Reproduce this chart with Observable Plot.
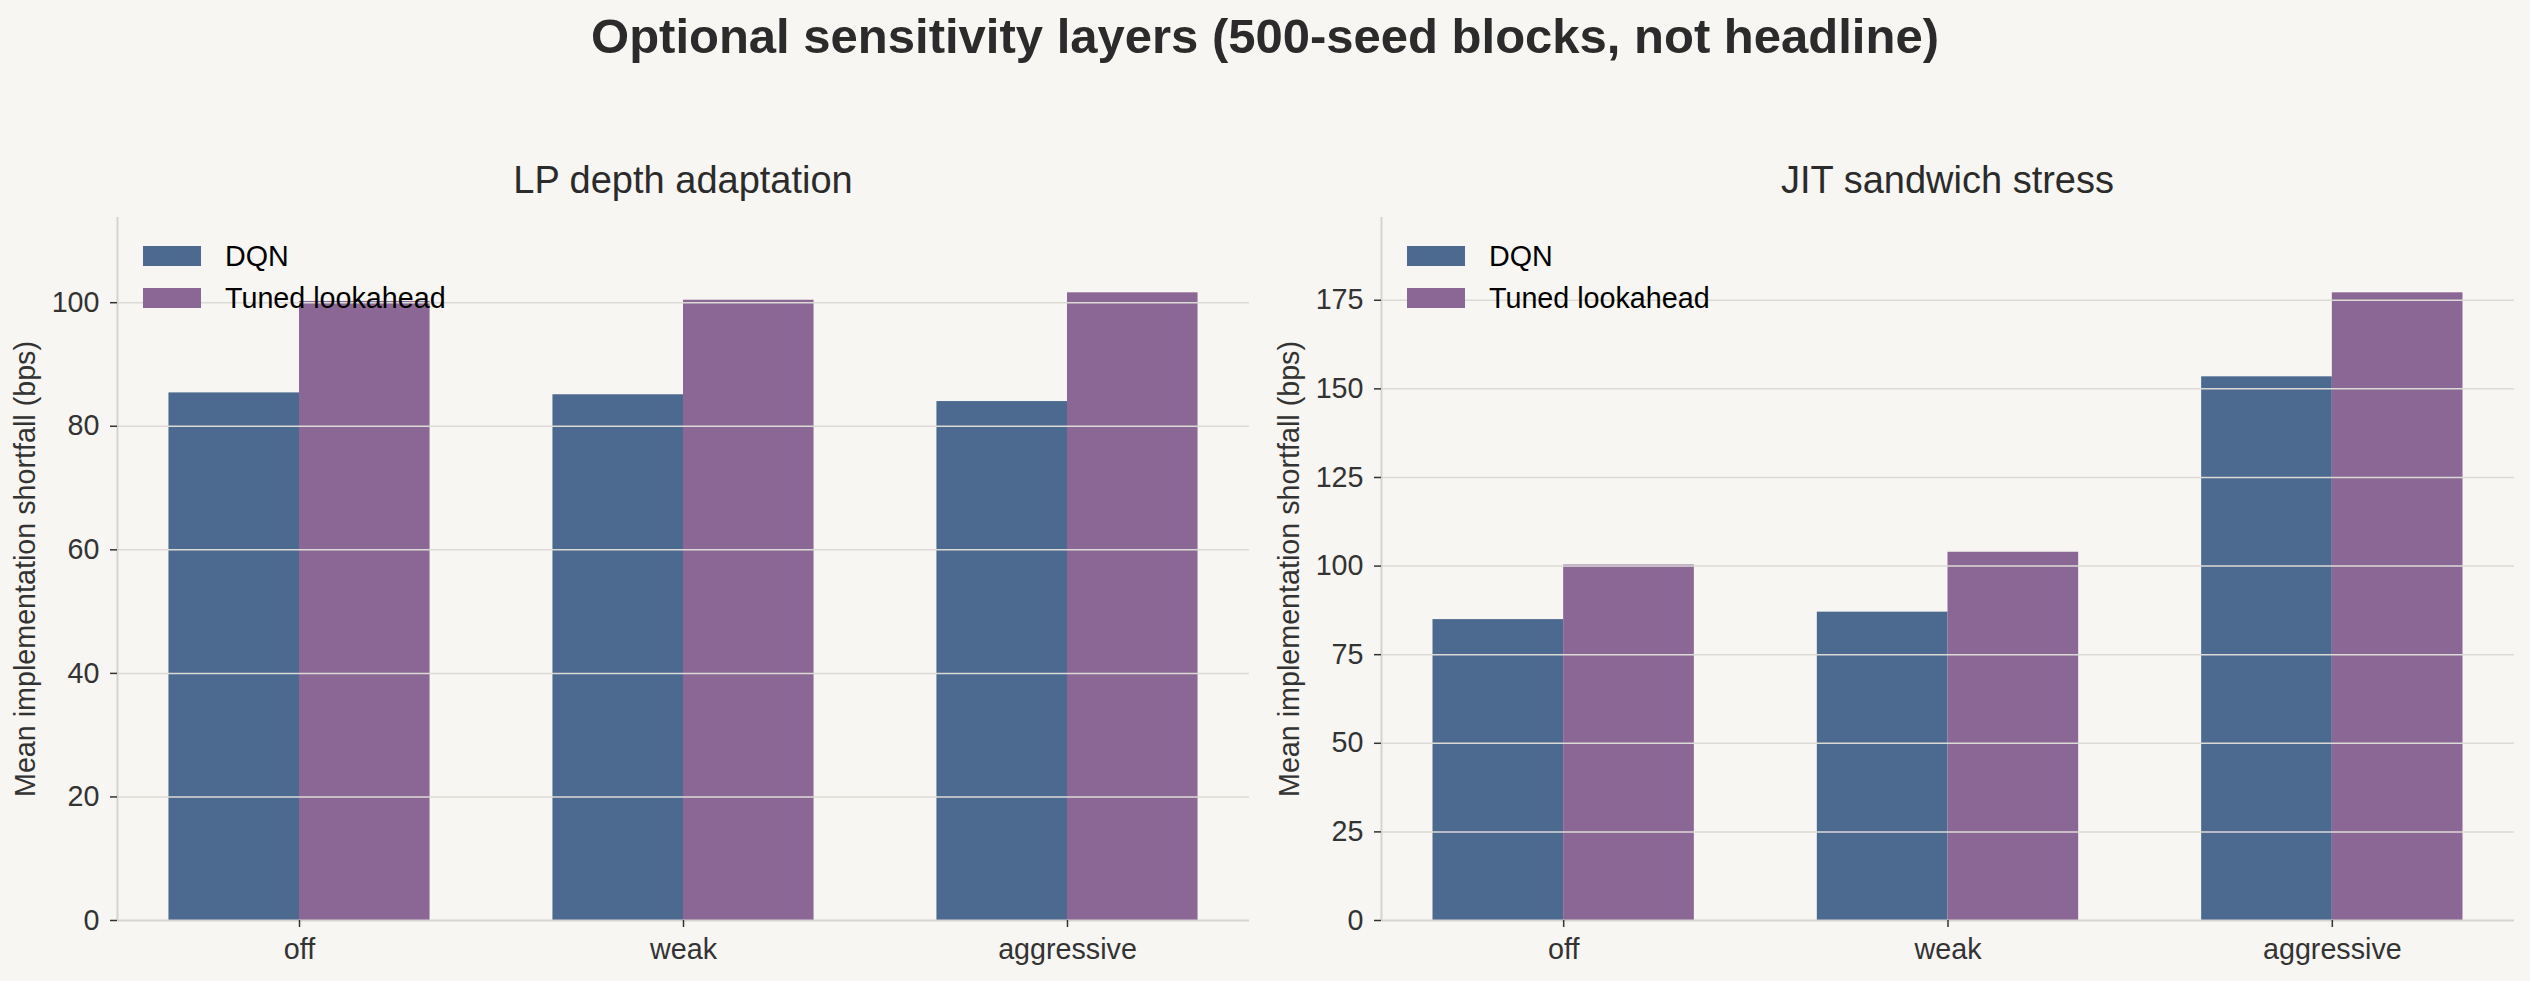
<!DOCTYPE html>
<html>
<head>
<meta charset="utf-8">
<script src="https://cdn.jsdelivr.net/npm/d3@7"></script>
<script src="https://cdn.jsdelivr.net/npm/@observablehq/plot@0.6"></script>
<style>
  html, body { margin: 0; padding: 0; background: #f7f6f2; }
  #page { position: relative; width: 2530px; height: 981px; background: #f7f6f2; overflow: hidden;
          font-family: "Liberation Sans", Arial, sans-serif; }
  .suptitle { position: absolute; left: 0; width: 2530px; top: 11.5px; text-align: center;
              font-weight: bold; font-size: 49px; line-height: 49px; color: #2b2b2b; white-space: nowrap; }
  .subtitle { position: absolute; top: 161px; font-size: 38px; line-height: 38px; color: #2b2b2b;
              text-align: center; white-space: nowrap; transform: translateX(-50%); }
  .panel { position: absolute; top: 200px; width: 1265px; height: 781px; }
  .legend { position: absolute; top: 246px; }
  .legend .row { display: flex; align-items: center; height: 20px; margin-bottom: 22px; }
  .legend .sw { width: 58px; height: 20px; margin-right: 24px; flex: none; }
  .legend .lab { font-size: 28.7px; line-height: 20px; color: #000; white-space: nowrap; }
</style>
</head>
<body>
<div id="page"></div>
<script>
// ---- data ----
const categories = ["off", "weak", "aggressive"];
const seriesNames = ["DQN", "Tuned lookahead"];
const seriesColors = ["#4c6990", "#8b6795"];
const lpDqn = [85.4, 85.1, 84.0];
const lpTuned = [100.2, 100.4, 101.6];
const jitDqn = [84.9, 87.0, 153.4];
const jitTuned = [100.3, 103.9, 177.1];
const lpTicks = [0, 20, 40, 60, 80, 100];
const jitTicks = [0, 25, 50, 75, 100, 125, 150, 175];
const panelTitles = ["LP depth adaptation", "JIT sandwich stress"];
const yLabel = "Mean implementation shortfall (bps)";
const figTitle = "Optional sensitivity layers (500-seed blocks, not headline)";

// ---- layout ----
const page = document.getElementById("page");
const st = document.createElement("div");
st.className = "suptitle";
st.textContent = figTitle;
page.appendChild(st);

const BAR_W = 0.34;
const PANEL_W = 1265, PANEL_H = 781;
const FS = 28.7;

function makePanel(dqn, tuned, ticks, left, marginLeft, title) {
  const rows = [];
  categories.forEach((c, i) => {
    rows.push({cat: c, i, series: seriesNames[0], value: dqn[i]});
    rows.push({cat: c, i, series: seriesNames[1], value: tuned[i]});
  });
  const ymax = d3.max(rows, d => d.value) * 1.12;
  const lo = -BAR_W, hi = categories.length - 1 + BAR_W;
  const pad = (hi - lo) * 0.05;
  const xdom = [lo - pad, hi + pad];

  const chart = Plot.plot({
    width: PANEL_W,
    height: PANEL_H,
    marginLeft: marginLeft,
    marginRight: 16,
    marginTop: 17,
    marginBottom: 61,
    style: {background: "transparent", fontFamily: "'Liberation Sans', Arial, sans-serif", fontSize: FS + "px", color: "#333"},
    x: {type: "linear", domain: xdom, axis: null},
    y: {type: "linear", domain: [0, ymax], axis: null},
    color: {domain: seriesNames, range: seriesColors},
    marks: [
      Plot.rectY(rows, {
        x1: d => d.series === seriesNames[0] ? d.i - BAR_W : d.i,
        x2: d => d.series === seriesNames[0] ? d.i : d.i + BAR_W,
        y: "value",
        fill: "series",
        inset: 0
      }),
      Plot.gridY({ticks: ticks.filter(t => t > 0), stroke: "#dcdad5", strokeOpacity: 1, strokeWidth: 1.5}),
      Plot.ruleY([0], {stroke: "#d6d4cf", strokeWidth: 2}),
      Plot.ruleX([xdom[0]], {stroke: "#d6d4cf", strokeWidth: 2}),
      Plot.axisX({ticks: d3.range(categories.length), tickFormat: i => categories[i], tickSize: 7, tickPadding: 11,
                  fontSize: FS, color: "#333", strokeWidth: 1.5, label: null}),
      Plot.axisY({ticks: ticks, tickFormat: d3.format("d"), tickSize: 7, tickPadding: 11,
                  fontSize: FS, color: "#333", strokeWidth: 1.5, label: null}),
      Plot.text([yLabel], {frameAnchor: "left", dx: -92, rotate: -90, lineAnchor: "middle", textAnchor: "middle",
                           fontSize: FS, fill: "#333", text: d => d})
    ]
  });

  const div = document.createElement("div");
  div.className = "panel";
  div.style.left = left + "px";
  div.appendChild(chart);
  page.appendChild(div);

  const plotLeft = left + marginLeft;
  const plotRight = left + PANEL_W - 16;
  const t = document.createElement("div");
  t.className = "subtitle";
  t.style.left = ((plotLeft + plotRight) / 2) + "px";
  t.textContent = title;
  page.appendChild(t);

  const lg = document.createElement("div");
  lg.className = "legend";
  lg.style.left = (plotLeft + 26) + "px";
  seriesNames.forEach((s, k) => {
    const r = document.createElement("div");
    r.className = "row";
    const sw = document.createElement("div");
    sw.className = "sw";
    sw.style.background = seriesColors[k];
    const lab = document.createElement("div");
    lab.className = "lab";
    lab.textContent = s;
    r.appendChild(sw);
    r.appendChild(lab);
    lg.appendChild(r);
  });
  page.appendChild(lg);
}

makePanel(lpDqn, lpTuned, lpTicks, 0, 117, panelTitles[0]);
makePanel(jitDqn, jitTuned, jitTicks, 1265, 116, panelTitles[1]);
</script>
</body>
</html>
